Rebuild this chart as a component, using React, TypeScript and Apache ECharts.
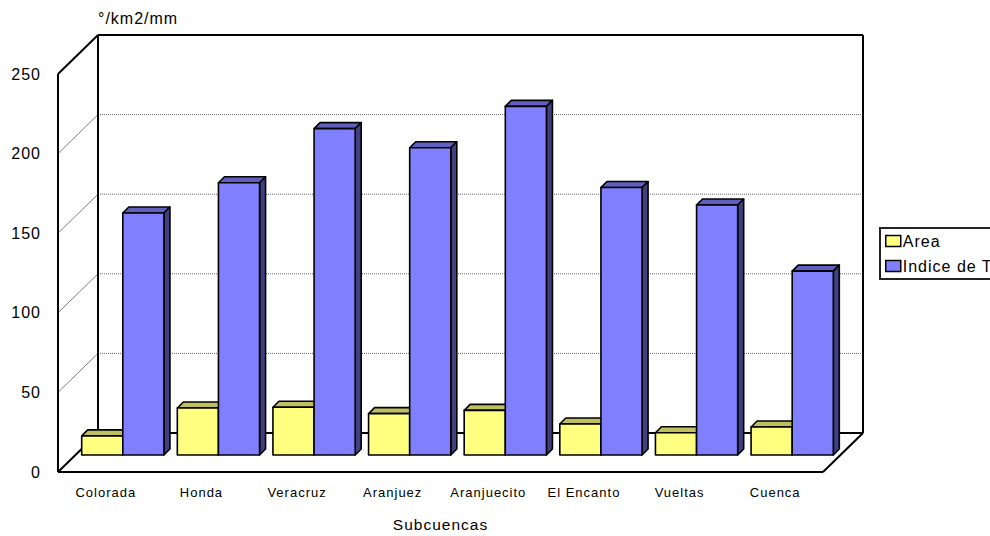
import React, { useEffect, useRef } from "react";
import * as echarts from "echarts";

const categories = ["Colorada", "Honda", "Veracruz", "Aranjuez", "Aranjuecito", "El Encanto", "Vueltas", "Cuenca"];
const areaValues = [12, 29.5, 30, 26, 28, 19.5, 14, 17.6];
const indiceValues = [152, 171, 205, 193, 219, 168, 157, 115.5];
const valueTicks = [50, 100, 150, 200];

const FONT = "Liberation Sans";
// Pseudo-3D layout, in pixels: wall depth, bar plane offset and bar depth.
const WALL_DX = 40;
const WALL_DY = -39;
const PLANE = 17;
const BAR_DX = 6;
const BAR_DY = -6;
const BAR_SHARE = 0.43;

const renderFrame = (_params: any, api: any) => {
  const step = api.size([1, 0])[0];
  const [cx, y0] = api.coord([0, 0]);
  const yTop = api.coord([0, 250])[1];
  const xL = cx - step / 2;
  const xR = xL + step * categories.length;
  const bold = { stroke: "#000", lineWidth: 2, fill: "none" };
  const line = (x1: number, y1: number, x2: number, y2: number, style: any) => ({
    type: "line",
    shape: { x1, y1, x2, y2 },
    style,
  });
  const children: any[] = [];
  for (const tick of valueTicks) {
    const y = api.coord([0, tick])[1];
    children.push(line(xL, y, xL + WALL_DX, y + WALL_DY, { stroke: "#808080", lineWidth: 1 }));
    children.push(
      line(xL + WALL_DX, y + WALL_DY, xR + WALL_DX, y + WALL_DY, {
        stroke: "#666",
        lineWidth: 1,
        lineDash: [1, 1],
      })
    );
  }
  children.push(
    line(xL, y0, xL, yTop, bold),
    line(xL, yTop, xL + WALL_DX, yTop + WALL_DY, bold),
    line(xL + WALL_DX, yTop + WALL_DY, xR + WALL_DX, yTop + WALL_DY, bold),
    line(xL + WALL_DX, yTop + WALL_DY, xL + WALL_DX, y0 + WALL_DY, bold),
    line(xR + WALL_DX, yTop + WALL_DY, xR + WALL_DX, y0 + WALL_DY, bold),
    line(xL + WALL_DX, y0 + WALL_DY, xR + WALL_DX, y0 + WALL_DY, bold),
    line(xL, y0, xL + WALL_DX, y0 + WALL_DY, bold),
    line(xL, y0, xR, y0, bold),
    line(xR, y0, xR + WALL_DX, y0 + WALL_DY, bold)
  );
  return { type: "group", children };
};

// Draws one bar as front, top and side faces; `slot` is -1 left of the category centre, 0 right of it.
const barRenderer = (slot: number, front: string, top: string, side: string) => (_params: any, api: any) => {
  const width = api.size([1, 0])[0] * BAR_SHARE;
  const [cx, y] = api.coord([api.value(0), api.value(1)]);
  const yBase = api.coord([0, 0])[1] - PLANE;
  const yFront = y - PLANE;
  const xl = cx + PLANE + slot * width;
  const xr = xl + width;
  const edge = { stroke: "#000", lineWidth: 1.6, lineJoin: "round" };
  return {
    type: "group",
    children: [
      {
        type: "polygon",
        shape: {
          points: [
            [xl, yFront],
            [xl + BAR_DX, yFront + BAR_DY],
            [xr + BAR_DX, yFront + BAR_DY],
            [xr, yFront],
          ],
        },
        style: { fill: top, ...edge },
      },
      {
        type: "polygon",
        shape: {
          points: [
            [xr, yFront],
            [xr + BAR_DX, yFront + BAR_DY],
            [xr + BAR_DX, yBase + BAR_DY],
            [xr, yBase],
          ],
        },
        style: { fill: side, ...edge },
      },
      {
        type: "rect",
        shape: { x: xl, y: yFront, width, height: yBase - yFront },
        style: { fill: front, ...edge },
      },
    ],
  };
};

const toPoints = (values: number[]) => values.map((v, i) => [i, v]);

export default function App() {
  const ref = useRef<HTMLDivElement>(null);
  useEffect(() => {
    const chart = echarts.init(ref.current!, undefined, { renderer: "svg" });
    chart.setOption({
      animation: false,
      backgroundColor: "#fff",
      textStyle: { fontFamily: FONT, color: "#000" },
      grid: { left: 58, right: 167, top: 74, bottom: 64, outerBoundsMode: "none" },
      xAxis: {
        type: "category",
        data: categories,
        name: "Subcuencas",
        nameLocation: "middle",
        nameGap: 44,
        nameTextStyle: { fontFamily: FONT, fontSize: 15.5, color: "#000" },
        axisLine: { show: false },
        axisTick: { show: false },
        axisLabel: { fontFamily: FONT, fontSize: 13, color: "#000", margin: 14, interval: 0 },
      },
      yAxis: {
        type: "value",
        min: 0,
        max: 250,
        interval: 50,
        name: "°/km2/mm",
        nameLocation: "end",
        nameGap: 56,
        nameTextStyle: {
          fontFamily: FONT,
          fontSize: 16,
          color: "#000",
          align: "left",
          verticalAlign: "middle",
          padding: [0, 0, 0, 40],
        },
        axisLine: { show: false },
        axisTick: { show: false },
        splitLine: { show: false },
        axisLabel: { fontFamily: FONT, fontSize: 16, color: "#000", margin: 17 },
      },
      legend: {
        orient: "vertical",
        left: 880,
        top: 228,
        data: ["Area", "Indice de T"],
        icon: "rect",
        itemWidth: 15,
        itemHeight: 11,
        itemGap: 9,
        padding: [5, 30, 5, 5],
        borderColor: "#222",
        borderWidth: 2,
        textStyle: { fontFamily: FONT, fontSize: 16, color: "#000", padding: [0, 0, 0, -3] },
        itemStyle: { borderColor: "#000", borderWidth: 1.5 },
      },
      series: [
        {
          type: "custom",
          name: "frame",
          silent: true,
          z: 1,
          renderItem: renderFrame,
          data: [[0, 0]],
          encode: { x: 0, y: 1 },
        },
        {
          type: "custom",
          name: "Area",
          z: 2,
          itemStyle: { color: "#FFFF80" },
          renderItem: barRenderer(-1, "#FFFF80", "#BFBF60", "#808040"),
          data: toPoints(areaValues),
          encode: { x: 0, y: 1 },
        },
        {
          type: "custom",
          name: "Indice de T",
          z: 3,
          itemStyle: { color: "#8080FF" },
          renderItem: barRenderer(0, "#8080FF", "#6060BF", "#404080"),
          data: toPoints(indiceValues),
          encode: { x: 0, y: 1 },
        },
      ],
    });
    return () => chart.dispose();
  }, []);
  return (
    <div
      ref={ref}
      style={{ position: "absolute", left: 0, top: 0, width: 990, height: 536, letterSpacing: "1px", overflow: "hidden" }}
    />
  );
}
